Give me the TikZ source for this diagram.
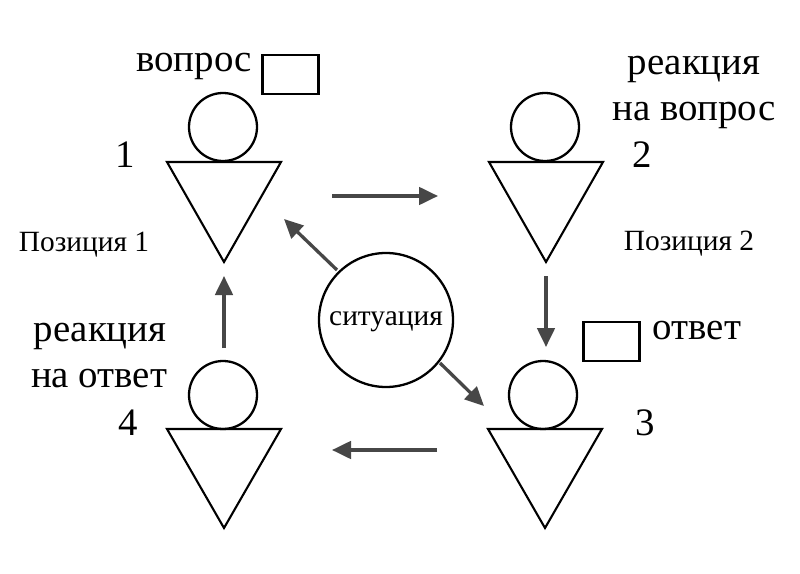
\documentclass[tikz,border=0pt]{standalone}
\usepackage{fontspec}
\setmainfont{Liberation Serif}
\usetikzlibrary{arrows.meta}
\tikzset{
 lbl/.style={inner sep=0pt,anchor=base,font=\fontsize{39}{39}\selectfont},
 small/.style={inner sep=0pt,anchor=base,font=\fontsize{29.5}{29.5}\selectfont},
 head/.style={draw=black,line width=2.3pt,circle,minimum size=68bp,inner sep=0pt},
 body/.style={draw=black,line width=2.1pt,line join=miter},
 box/.style={draw=black,line width=2.1pt,minimum width=56bp,minimum height=39bp,inner sep=0pt},
 flow/.style={draw=black!72,line width=3.3pt,-{Triangle[length=19bp,width=17.5bp]}}
}
\begin{document}
\begin{tikzpicture}[x=1bp,y=-1bp]
\useasboundingbox (0,0) rectangle (800,574);
\fill[white] (0,0) rectangle (800,574);
\node[head] (h1) at (223,127) {};
\node[head] (h2) at (545,127) {};
\node[head] (h3) at (543,395) {};
\node[head] (h4) at (223,395) {};
\coordinate (a1) at (167,162); \coordinate (b1) at (281,162); \coordinate (c1) at (224,262);
\coordinate (a2) at (489,162); \coordinate (b2) at (603,162); \coordinate (c2) at (546,262);
\coordinate (a3) at (488,429); \coordinate (b3) at (602,429); \coordinate (c3) at (545,528);
\coordinate (a4) at (167,429); \coordinate (b4) at (281,429); \coordinate (c4) at (224,528);
\draw[body] (a1)--(b1)--(c1)--cycle;
\draw[body] (a2)--(b2)--(c2)--cycle;
\draw[body] (a3)--(b3)--(c3)--cycle;
\draw[body] (a4)--(b4)--(c4)--cycle;
\node[draw=black,line width=2.3pt,circle,minimum size=134bp,inner sep=0pt] (s) at (386,320) {};
\node[small] (st) at (386,325) {ситуация};
\node[box] (bx1) at (290.5,74.5) {};
\node[box] (bx2) at (611.5,341.5) {};
\node[lbl] (t1) at (194,72) {вопрос};
\node[lbl] (t2a) at (694,75) {реакция};
\node[lbl] (t2b) at (694,121) {на вопрос};
\node[lbl] (t3) at (697,339) {ответ};
\node[lbl] (t4a) at (100,341) {реакция};
\node[lbl] (t4b) at (99,387) {на ответ};
\node[lbl] (n1) at (125,168) {1};
\node[lbl] (n2) at (642,168) {2};
\node[lbl] (n3) at (645,435) {3};
\node[lbl] (n4) at (128,435) {4};
\node[small] (p1) at (84,251) {Позиция 1};
\node[small] (p2) at (689,250.5) {Позиция 2};
\coordinate (f1) at (332,196); \coordinate (f2) at (438,196);
\coordinate (f3) at (546,276); \coordinate (f4) at (546,347);
\coordinate (f5) at (437,450); \coordinate (f6) at (332,450);
\coordinate (f7) at (224,348); \coordinate (f8) at (224,276);
\coordinate (f9) at (337,270); \coordinate (f10) at (284,219);
\coordinate (f11) at (440,363); \coordinate (f12) at (484,406);
\draw[flow] (f1)--(f2);
\draw[flow] (f3)--(f4);
\draw[flow] (f5)--(f6);
\draw[flow] (f7)--(f8);
\draw[flow] (f9)--(f10);
\draw[flow] (f11)--(f12);
\end{tikzpicture}
\end{document}
